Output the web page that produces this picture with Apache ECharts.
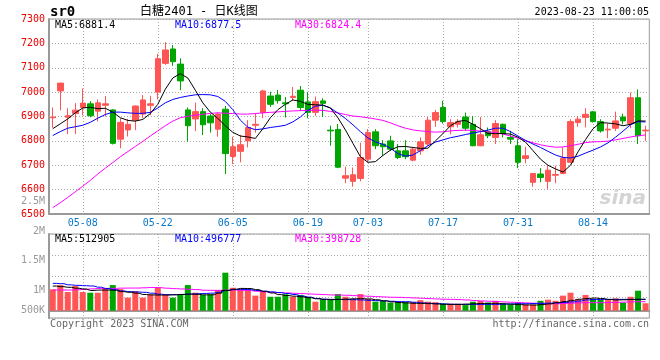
<!DOCTYPE html>
<html><head><meta charset="utf-8">
<script src="https://cdn.jsdelivr.net/npm/echarts@6/dist/echarts.min.js"></script>
<style>html,body{margin:0;padding:0;background:#fff}#c{width:660px;height:360px}</style>
</head><body><div id="c"></div>
<script>
const dates = ['04-27','04-28','05-04','05-05','05-08','05-09','05-10','05-11','05-12','05-15','05-16','05-17','05-18','05-19','05-22','05-23','05-24','05-25','05-26','05-29','05-30','05-31','06-01','06-02','06-05','06-06','06-07','06-08','06-09','06-12','06-13','06-14','06-15','06-16','06-19','06-20','06-21','06-26','06-27','06-28','06-29','06-30','07-03','07-04','07-05','07-06','07-07','07-10','07-11','07-12','07-13','07-14','07-17','07-18','07-19','07-20','07-21','07-24','07-25','07-26','07-27','07-28','07-31','08-01','08-02','08-03','08-04','08-07','08-08','08-09','08-10','08-11','08-14','08-15','08-16','08-17','08-18','08-21','08-22','08-23'];
const opens = [6895,7005,6897,6912,6937,6952,6922,6946,6927,6807, 6845,6885,6910,6946,7000,7118,7177,7115,6927,6890, 6920,6902,6848,6930,6736,6757,6800,6864,6916,6984, 6988,6956,6978,7008,6960,6917,6964,6844,6847,6647, 6634,6646,6725,6837,6787,6800,6759,6759,6721,6759, 6787,6885,6937,6858,6868,6898,6868,6780,6838,6814, 6868,6814,6780,6728,6630,6664,6634,6659,6666,6712, 6875,6896,6919,6879,6845,6852,6898,6871,6977,6841];
const closes = [6898,7037,6903,6926,6955,6903,6956,6952,6790,6876, 6868,6943,6968,6952,7137,7173,7125,7046,6862,6920, 6866,6874,6910,6748,6776,6784,6855,6868,7005,6950, 6965,6952,6983,6937,6917,6961,6954,6841,6692,6657, 6661,6732,6834,6780,6776,6766,6732,6735,6766,6796, 6885,6916,6879,6875,6879,6852,6780,6825,6821,6871, 6830,6807,6712,6739,6666,6650,6680,6662,6729,6879, 6889,6909,6879,6841,6848,6882,6882,6977,6821,6844];
const lows = [6854,6925,6828,6828,6905,6897,6880,6900,6785,6770, 6818,6844,6893,6905,6970,7112,7108,7008,6797,6840, 6824,6834,6817,6664,6705,6712,6773,6834,6893,6939, 6953,6896,6964,6923,6893,6903,6898,6780,6688,6626, 6612,6634,6711,6766,6739,6759,6725,6725,6716,6743, 6780,6858,6871,6827,6855,6841,6778,6778,6811,6787, 6814,6787,6688,6708,6612,6630,6603,6626,6664,6708, 6858,6855,6875,6834,6811,6841,6868,6852,6787,6800];
const highs = [6937,7038,6934,6955,7015,6963,6970,6984,6930,6893, 6890,6945,6988,6985,7157,7205,7193,7139,6937,6957, 6934,6910,6917,6943,6817,6825,6885,6912,7010,7002, 7009,6980,7021,7025,7001,6982,6975,6862,6869,6694, 6691,6793,6848,6848,6803,6821,6787,6803,6773,6814, 6898,6927,6964,6889,6889,6916,6902,6898,6855,6885, 6871,6841,6807,6776,6668,6688,6698,6698,6773,6889, 6902,6934,6923,6889,6871,6920,6912,6998,7011,6862];
// volumes in thousands of lots
const volumesK = [950,1140,830,1100,830,800,800,980,1140,960, 580,870,580,730,1040,700,580,700,1140,800, 700,730,920,1690,1020,950,890,670,870,620, 620,730,620,700,620,400,500,500,740,620, 520,740,520,400,440,360,380,380,380,470, 400,380,310,310,310,250,400,430,360,440, 330,270,360,280,280,440,490,440,670,800, 500,700,520,500,470,550,360,620,890,330];
const ma5 = [6850,6870,6890,6915,6935,6938,6932,6934,6918,6895, 6884,6881,6888,6912,6950,7012,7058,7076,7058,7008, 6956,6918,6892,6862,6835,6820,6816,6810,6850,6895, 6928,6950,6968,6962,6950,6948,6947,6935,6895,6845, 6790,6735,6712,6715,6740,6762,6776,6777,6773,6769, 6770,6800,6830,6862,6880,6884,6868,6850,6830,6830, 6830,6828,6815,6795,6760,6725,6700,6685,6672,6700, 6755,6805,6850,6875,6873,6870,6862,6868,6882,6881.4];
const ma10 = [6822,6838,6852,6858,6864,6876,6893,6908,6918,6918, 6915,6913,6913,6917,6935,6956,6970,6978,6984,6989, 6990,6989,6982,6962,6928,6885,6856,6846,6849,6855, 6859,6864,6878,6898,6925,6942,6946,6935,6914,6892, 6866,6838,6812,6796,6786,6770,6748,6737,6742,6760, 6780,6795,6804,6813,6819,6826,6832,6838,6844,6852, 6852,6838,6820,6802,6787,6773,6757,6742,6732,6730, 6737,6750,6762,6775,6792,6815,6840,6866,6879,6877.5];
const ma30 = [6526,6546,6568,6591,6614,6638,6664,6688,6711,6735, 6756,6777,6798,6820,6841,6862,6881,6895,6901,6905, 6909,6913,6915,6914,6912,6910,6910,6912,6915,6917, 6919,6921,6923,6924,6925,6926,6925,6921,6915,6908, 6902,6899,6895,6890,6884,6874,6862,6852,6845,6841, 6838,6836,6837,6841,6843,6844,6843,6840,6837,6834, 6828,6820,6811,6801,6792,6784,6778,6774,6775,6780, 6786,6793,6796,6797,6799,6804,6810,6816,6821,6824.4];
const volMa5K = [1096,1067,1040,1000,965,900,915,919,906,850, 820,778,720,700,696,696,708,722,738,730, 705,705,780,900,955,990,985,935,860,790, 715,675,645,615,575,530,507,492,500,515, 530,533,522,485,440,395,362,345,330,326, 315,300,285,281,281,292,308,322,326,326, 305,285,270,255,252,272,305,355,405,460, 510,540,560,540,495,478,485,500,508,512.905];
const volMa10K = [1215,1200,1150,1128,1112,1098,1045,985,940,880, 848,832,818,778,733,713,711,722,738,752, 766,780,820,900,940,948,938,898,866,836, 806,765,720,650,600,545,508,504,504,492, 489,477,462,447,433,418,404,400,376,347, 330,315,300,285,281,281,281,281,281,281, 290,305,311,311,322,326,337,352,366,392, 432,478,500,504,504,504,504,504,500,496.777];
const volMa30K = [919,919,919,930,945,970,990,993,993,1003, 1007,1007,1018,1033,1025,1000,982,967,952,937, 910,904,904,915,919,908,893,866,837,818, 803,789,773,760,745,730,715,700,696,685, 670,656,641,626,611,597,593,582,567,552, 537,523,508,504,493,478,452,435,419,404, 389,374,360,345,330,326,315,311,322,337, 352,356,356,356,366,370,381,396,400,398.728];
const xTickDates = ['05-08','05-22','06-05','06-19','07-03','07-17','07-31','08-14'];
const priceMin = 6500, priceMax = 7300, priceStep = 100;
const volLabelMin = 500000, volLabelMax = 2500000, volLabelStep = 500000;

const K = 1000;
const volumes = volumesK.map(v => v * K);
const volMa5 = volMa5K.map(v => v * K), volMa10 = volMa10K.map(v => v * K), volMa30 = volMa30K.map(v => v * K);

const UP = '#ff5555', DOWN = '#00a600';
const MONO = '"DejaVu Sans Mono", "Liberation Mono", monospace';
const GRIDC = '#aaaaaa';
const last = a => a[a.length - 1];
const isTick = (i) => xTickDates.indexOf(dates[i]) >= 0;

const chart = echarts.init(document.getElementById('c'), null, {renderer: 'canvas'});
const candle = dates.map((d, i) => [opens[i], closes[i], lows[i], highs[i]]);
const volData = volumes.map((v, i) => ({value: v, itemStyle: {color: closes[i] >= opens[i] ? UP : DOWN}}));

const dotted = {color: GRIDC, type: [1, 2], width: 1};
const G = {left: 49, width: 600.3};
const txt = (x, y, text, fill, font, align) => ({type: 'text', x: x, y: y, z: 10,
  style: {text: text, font: font, fill: fill, textAlign: align, textVerticalAlign: 'middle', align: align, verticalAlign: 'middle'}});

chart.setOption({
  animation: false,
  backgroundColor: '#fff',
  grid: [
    {left: G.left, width: G.width, top: 19, height: 195, show: true, borderColor: '#999', borderWidth: 1},
    {left: G.left, width: G.width, top: 234, height: 84, show: true, borderColor: '#999', borderWidth: 1},
    {left: G.left, width: G.width, top: 201, height: 119.7, show: false}
  ],
  xAxis: [
    {type: 'category', gridIndex: 0, data: dates, boundaryGap: true,
     axisLine: {lineStyle: {color: '#999', width: 2}}, axisTick: {show: false, alignWithLabel: true},
     axisLabel: {interval: (i) => isTick(i), color: '#0a78c8', fontFamily: MONO, fontSize: 10, margin: 4},
     splitLine: {show: true, alignWithLabel: true, interval: (i) => isTick(i), lineStyle: dotted}},
    {type: 'category', gridIndex: 1, data: dates, boundaryGap: true,
     axisLine: {lineStyle: {color: '#999', width: 2}}, axisTick: {show: false, alignWithLabel: true}, axisLabel: {show: false},
     splitLine: {show: true, alignWithLabel: true, interval: (i) => isTick(i), lineStyle: dotted}},
    {type: 'value', gridIndex: 2, show: false, min: 0, max: 1}
  ],
  yAxis: [
    {type: 'value', gridIndex: 0, min: priceMin, max: priceMax, interval: priceStep,
     axisLine: {show: true, lineStyle: {color: '#999', width: 2}}, axisTick: {show: false},
     axisLabel: {color: '#ee0000', fontFamily: MONO, fontSize: 10, margin: 4, padding: [0, 0, 4, 0], formatter: v => String(v)},
     splitLine: {show: true, lineStyle: dotted}},
    {type: 'value', gridIndex: 1, min: -324000, max: 3409000,
     axisLine: {show: true, lineStyle: {color: '#999', width: 2}}, axisTick: {show: false},
     axisLabel: {show: false}, splitLine: {show: false}},
    {type: 'value', gridIndex: 1, min: 0, max: 4, interval: 1, position: 'right',
     axisLine: {show: false}, axisTick: {show: false}, axisLabel: {show: false},
     splitLine: {show: true, lineStyle: dotted}},
    {type: 'value', gridIndex: 2, min: volLabelMin, max: volLabelMax, interval: volLabelStep,
     axisLine: {show: false}, axisTick: {show: false}, splitLine: {show: false},
     axisLabel: {color: '#999', fontFamily: MONO, fontSize: 10, margin: 4,
       formatter: v => v >= 1e6 ? (v / 1e6) + 'M' : (v === volLabelMin ? '{lift|' + (v / 1e3) + 'K}' : (v / 1e3) + 'K'),
       rich: {lift: {padding: [0, 0, 20, 0], color: '#999', fontFamily: MONO, fontSize: 10}}}}
  ],
  series: [
    {type: 'candlestick', xAxisIndex: 0, yAxisIndex: 0, data: candle, barWidth: 6,
     itemStyle: {color: UP, color0: DOWN, borderColor: UP, borderColor0: DOWN, borderWidth: 1}},
    {type: 'line', xAxisIndex: 0, yAxisIndex: 0, data: ma30, symbol: 'none', lineStyle: {color: '#ff00ff', width: 1}},
    {type: 'line', xAxisIndex: 0, yAxisIndex: 0, data: ma10, symbol: 'none', lineStyle: {color: '#0000ff', width: 1}},
    {type: 'line', xAxisIndex: 0, yAxisIndex: 0, data: ma5, symbol: 'none', lineStyle: {color: '#000', width: 1}},
    {type: 'bar', xAxisIndex: 1, yAxisIndex: 1, data: volData, barWidth: 6},
    {type: 'line', xAxisIndex: 1, yAxisIndex: 1, data: volMa30, symbol: 'none', step: 'middle', lineStyle: {color: '#ff00ff', width: 1}},
    {type: 'line', xAxisIndex: 1, yAxisIndex: 1, data: volMa10, symbol: 'none', step: 'middle', lineStyle: {color: '#0000ff', width: 1}},
    {type: 'line', xAxisIndex: 1, yAxisIndex: 1, data: volMa5, symbol: 'none', step: 'middle', lineStyle: {color: '#000', width: 1}}
  ],
  graphic: [
    txt(50, 12, 'sr0', '#000', 'bold 14px ' + MONO, 'left'),
    txt(140, 12, '白糖2401 - 日K线图', '#000', '12px "DejaVu Sans Mono", "Noto Sans CJK SC"', 'left'),
    txt(649, 12, '2023-08-23 11:00:05', '#000', '10px ' + MONO, 'right'),
    txt(55, 25, 'MA5:' + last(ma5).toFixed(1), '#000', '10px ' + MONO, 'left'),
    txt(175, 25, 'MA10:' + last(ma10).toFixed(1), '#0000ff', '10px ' + MONO, 'left'),
    txt(295, 25, 'MA30:' + last(ma30).toFixed(1), '#ff00ff', '10px ' + MONO, 'left'),
    txt(55, 239, 'MA5:' + Math.round(last(volMa5)), '#000', '10px ' + MONO, 'left'),
    txt(175, 239, 'MA10:' + Math.round(last(volMa10)), '#0000ff', '10px ' + MONO, 'left'),
    txt(295, 239, 'MA30:' + Math.round(last(volMa30)), '#ff00ff', '10px ' + MONO, 'left'),
    txt(50, 324, 'Copyright 2023 SINA.COM', '#666', '10px ' + MONO, 'left'),
    txt(649, 324, 'http://finance.sina.com.cn', '#666', '10px ' + MONO, 'right'),
    Object.assign(txt(646, 199, 'sina', '#d4d4d4', 'italic bold 20px "DejaVu Sans", sans-serif', 'right'), {z: 1})
  ]
});
</script></body></html>
